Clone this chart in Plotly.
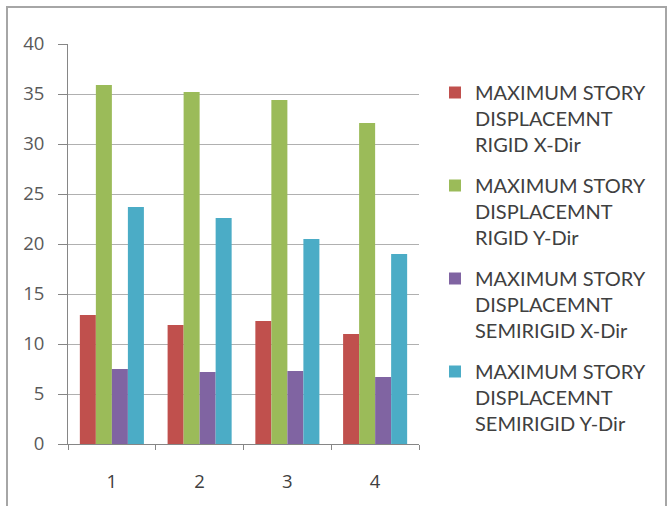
import plotly.graph_objects as go

# Story displacement for four cases
categories = ["1", "2", "3", "4"]
rigid_x = [12.9, 11.9, 12.3, 11.0]
rigid_y = [35.9, 35.2, 34.4, 32.1]
semirigid_x = [7.5, 7.2, 7.3, 6.7]
semirigid_y = [23.7, 22.6, 20.5, 19.0]

series_names = [
    "MAXIMUM STORY<br>DISPLACEMNT<br>RIGID X-Dir",
    "MAXIMUM STORY<br>DISPLACEMNT<br>RIGID Y-Dir",
    "MAXIMUM STORY<br>DISPLACEMNT<br>SEMIRIGID X-Dir",
    "MAXIMUM STORY<br>DISPLACEMNT<br>SEMIRIGID Y-Dir",
]
series_values = [rigid_x, rigid_y, semirigid_x, semirigid_y]
colors = ["#C0504D", "#9BBB59", "#8064A2", "#4BACC6"]

W, H = 668, 506
L, R, T, B = 68, 419, 44, 444

fig = go.Figure()
for i, (name, vals, col) in enumerate(zip(series_names, series_values, colors)):
    fig.add_trace(go.Bar(
        x=categories, y=vals, name=name,
        marker=dict(color=col, line=dict(width=0)),
        legendgroup=str(i),
    ))

def px_x(p):
    return (p - L) / (R - L)

def px_y(p):
    return (B - p) / (B - T)

fig.update_layout(
    width=W, height=H,
    margin=dict(l=L, r=W - R, t=T, b=H - B),
    paper_bgcolor="white", plot_bgcolor="white",
    barmode="group", bargap=0.27, bargroupgap=0,
    font=dict(family="Lato", color="#404040"),
    legend=dict(
        x=px_x(435), y=px_y(73), xanchor="left", yanchor="top",
        font=dict(size=20, color="#404040"),
        valign="top", tracegroupgap=12, itemwidth=30,
        bgcolor="rgba(0,0,0,0)",
    ),
    xaxis=dict(
        type="category", tickson="boundaries",
        showgrid=False, showline=True, linecolor="#868686", linewidth=1,
        ticks="outside", ticklen=5, tickcolor="#868686",
        tickfont=dict(family="Open Sans", size=18.5, color="#404040"),
        ticklabelstandoff=21,
    ),
    yaxis=dict(
        range=[0, 40], dtick=5,
        showgrid=True, gridcolor="#B0B0B0", gridwidth=1,
        showline=True, linecolor="#868686", linewidth=1,
        ticks="outside", ticklen=9, tickcolor="#868686",
        tickfont=dict(family="Open Sans", size=18.5, color="#595959"),
        ticklabelstandoff=10,
        zeroline=False,
    ),
    shapes=[
        dict(type="rect", xref="paper", yref="paper",
             x0=px_x(7), x1=px_x(666), y0=px_y(7), y1=px_y(520),
             line=dict(color="#A6A6A6", width=2), fillcolor="rgba(0,0,0,0)",
             layer="below"),
    ],
)

fig.write_html("out.html")
